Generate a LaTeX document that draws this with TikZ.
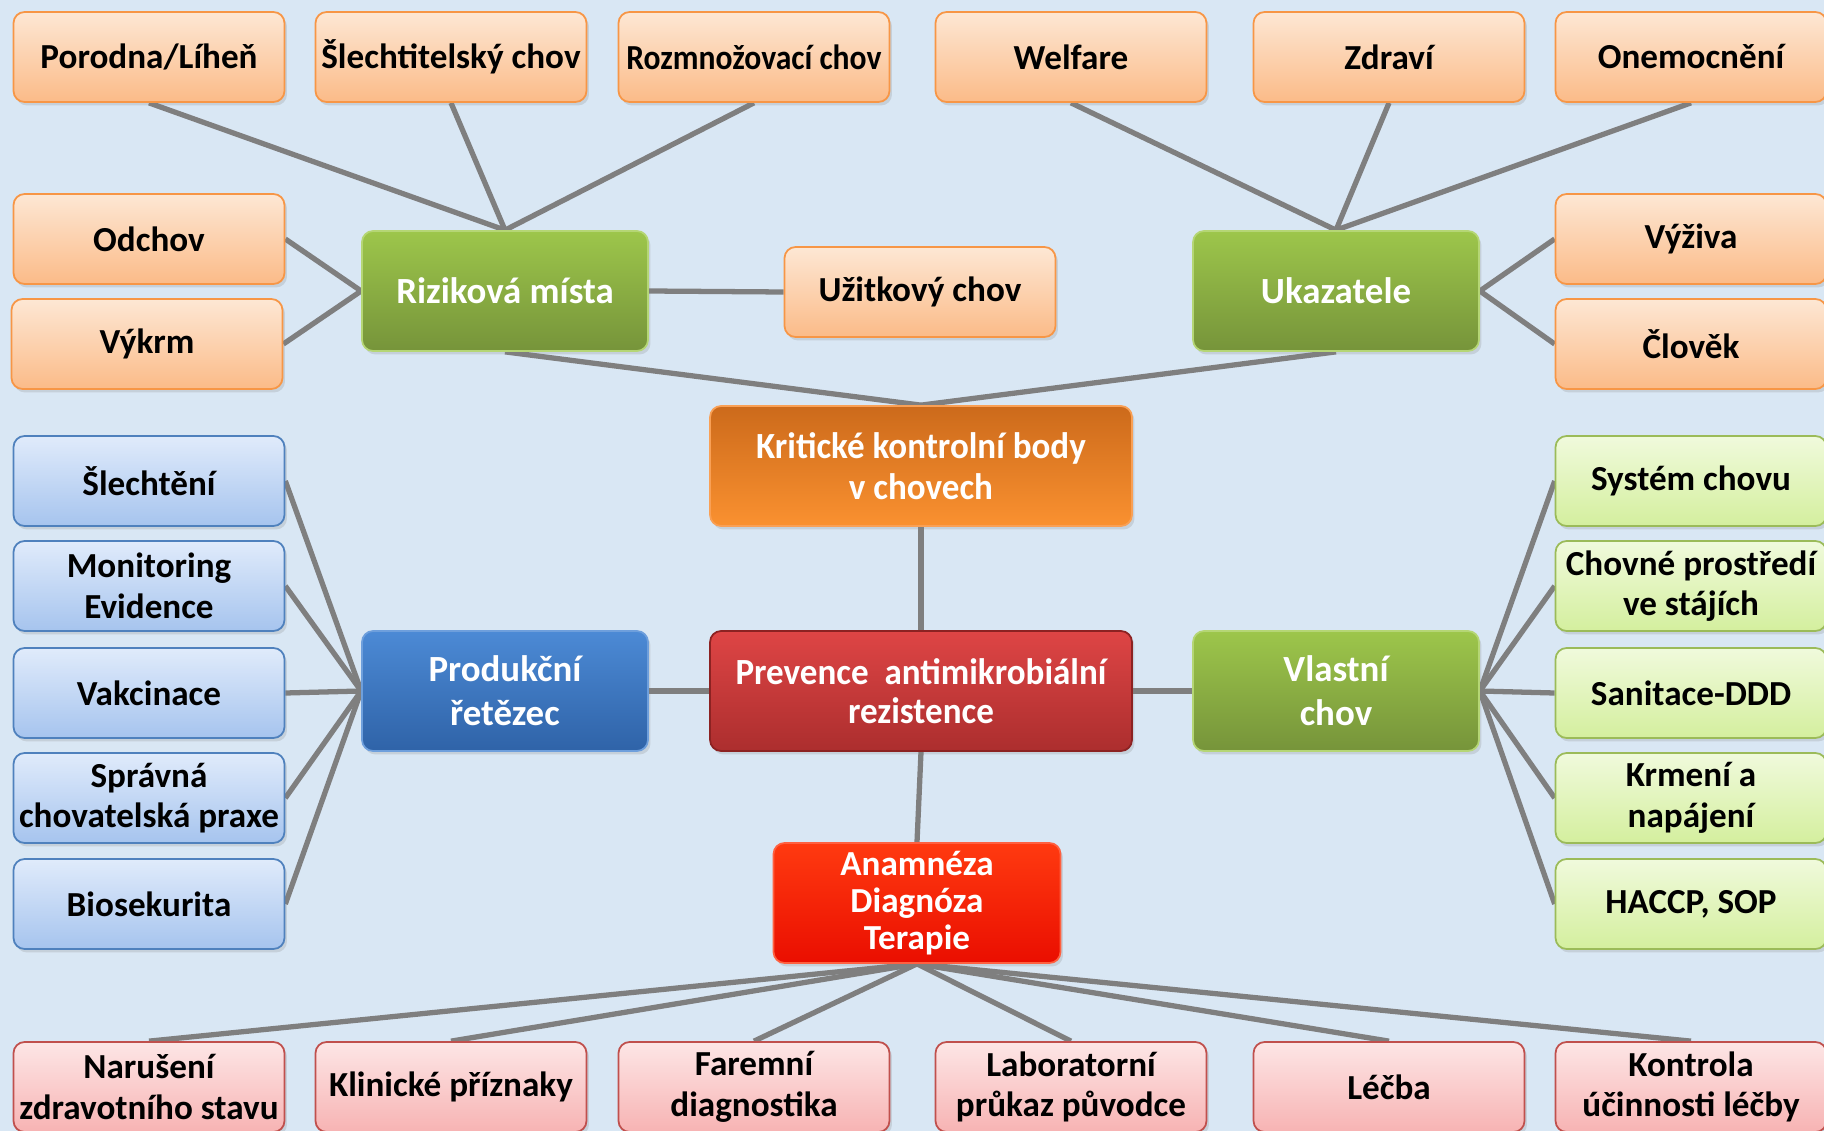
\documentclass[tikz,border=0pt]{standalone}
\usepackage{fontspec}
\usepackage{graphicx}
\setmainfont{Carlito}
\usetikzlibrary{shadows}
\pgfdeclarelayer{backdrop}
\pgfdeclarelayer{bg}
\pgfsetlayers{backdrop,bg,main}
\newcommand{\sqz}[1]{\scalebox{0.95}[1]{#1}}
\definecolor{BackC}{HTML}{D9E7F4}
\definecolor{LinkC}{HTML}{7F7F7F}
\definecolor{OrT}{HTML}{FDE7D4}
\definecolor{OrB}{HTML}{FBBB88}
\definecolor{OrD}{HTML}{F79646}
\definecolor{GlT}{HTML}{F0FADC}
\definecolor{GlB}{HTML}{D4EF9E}
\definecolor{GlD}{HTML}{9BBB59}
\definecolor{BlT}{HTML}{E0EBFB}
\definecolor{BlB}{HTML}{A6C4EE}
\definecolor{BlD}{HTML}{4F81BD}
\definecolor{PkT}{HTML}{FDE6E6}
\definecolor{PkB}{HTML}{F7B3B3}
\definecolor{PkD}{HTML}{C0504D}
\definecolor{HgT}{HTML}{9DC64B}
\definecolor{HgB}{HTML}{76943A}
\definecolor{HgD}{HTML}{B5D675}
\definecolor{HbT}{HTML}{4C8AD5}
\definecolor{HbB}{HTML}{2F63A8}
\definecolor{HbD}{HTML}{6E9FDC}
\definecolor{KoT}{HTML}{CC6A1B}
\definecolor{KoB}{HTML}{FA9130}
\definecolor{KoD}{HTML}{F9A055}
\definecolor{PrT}{HTML}{DE4545}
\definecolor{PrB}{HTML}{AC2E2E}
\definecolor{PrD}{HTML}{8C2222}
\definecolor{AnT}{HTML}{FF3A10}
\definecolor{AnB}{HTML}{EA0E00}
\definecolor{AnD}{HTML}{FF6040}
\begin{document}
\begin{tikzpicture}[x=0.02cm,y=-0.02cm,
  base/.style={rounded corners=0.22cm, align=center, inner sep=0pt, draw, line width=1pt,
    drop shadow={opacity=0.22, shadow xshift=0.05cm, shadow yshift=-0.07cm}},
  leaf/.style={base, minimum width=5.42cm, minimum height=1.8cm,
    font=\bfseries\fontsize{20}{23}\selectfont},
  orangebox/.style={leaf, top color=OrT, bottom color=OrB, draw=OrD},
  greenleaf/.style={leaf, top color=GlT, bottom color=GlB, draw=GlD},
  blueleaf/.style={leaf, top color=BlT, bottom color=BlB, draw=BlD},
  pinkleaf/.style={leaf, top color=PkT, bottom color=PkB, draw=PkD},
  hub/.style={base, minimum width=5.72cm, minimum height=2.4cm, text=white,
    font=\bfseries\fontsize{21}{25}\selectfont},
  greenhub/.style={hub, top color=HgT, bottom color=HgB, draw=HgD},
  bluehub/.style={hub, top color=HbT, bottom color=HbB, draw=HbD},
  link/.style={draw=LinkC, line width=3pt}
]
\begin{pgfonlayer}{backdrop}
\fill[BackC] (0,0) rectangle (1824,1131);
\end{pgfonlayer}
\useasboundingbox (0,0) rectangle (1824,1131);
\clip (0,0) rectangle (1824,1131);

% top row
\node[orangebox] (por) at (149,57) {Porodna/Líheň};
\node[orangebox] (sle) at (451,57) {Šlechtitelský chov};
\node[orangebox] (roz) at (754,57) {\scalebox{0.9}[1]{Rozmnožovací chov}};
\node[orangebox] (wel) at (1071,57) {Welfare};
\node[orangebox] (zdr) at (1389,57) {Zdraví};
\node[orangebox] (one) at (1691,57) {Onemocnění};
% second row
\node[orangebox] (odc) at (149,239) {Odchov};
\node[orangebox] (vyk) at (147,344) {Výkrm};
\node[greenhub] (riz) at (505,291) {Riziková místa};
\node[orangebox] (uzi) at (920,292) {Užitkový chov};
\node[greenhub] (uka) at (1336,291) {Ukazatele};
\node[orangebox] (vyz) at (1691,239) {Výživa};
\node[orangebox] (clo) at (1691,344) {Člověk};
% centre
\node[hub, minimum width=8.44cm, top color=KoT, bottom color=KoB, draw=KoD,
  font=\bfseries\fontsize{21}{23}\selectfont] (kri) at (921,466)
  {\sqz{Kritické kontrolní body}\\\sqz{v chovech}};
\node[hub, minimum width=8.44cm, top color=PrT, bottom color=PrB, draw=PrD,
  font=\bfseries\fontsize{21}{22}\selectfont] (pre) at (921,691)
  {\sqz{Prevence~ antimikrobiální}\\\sqz{rezistence}};
\node[bluehub] (pro) at (505,691) {Produkční\\řetězec};
\node[greenhub] (vla) at (1336,691) {Vlastní\\chov};
\node[hub, minimum width=5.74cm, top color=AnT, bottom color=AnB, draw=AnD,
  font=\bfseries\fontsize{20}{21}\selectfont] (ana) at (917,903) {Anamnéza\\Diagnóza\\Terapie};
% left column
\node[blueleaf] (b1) at (149,481) {Šlechtění};
\node[blueleaf] (b2) at (149,586) {Monitoring\\Evidence};
\node[blueleaf] (b3) at (149,693) {Vakcinace};
\node[blueleaf] (b4) at (149,798) {Správná\\chovatelská praxe};
\node[blueleaf] (b5) at (149,904) {Biosekurita};
% right column
\node[greenleaf] (g1) at (1691,481) {Systém chovu};
\node[greenleaf] (g2) at (1691,586) {Chovné prostředí\\ve stájích};
\node[greenleaf] (g3) at (1691,693) {Sanitace-DDD};
\node[greenleaf] (g4) at (1691,798) {Krmení a\\napájení};
\node[greenleaf] (g5) at (1691,904) {HACCP, SOP};
% bottom row
\node[pinkleaf] (p1) at (149,1087) {Narušení\\zdravotního stavu};
\node[pinkleaf] (p2) at (451,1087) {Klinické příznaky};
\node[pinkleaf] (p3) at (754,1087) {Faremní\\diagnostika};
\node[pinkleaf] (p4) at (1071,1087) {Laboratorní\\průkaz původce};
\node[pinkleaf] (p5) at (1389,1087) {Léčba};
\node[pinkleaf] (p6) at (1691,1087) {Kontrola\\účinnosti léčby};

\begin{pgfonlayer}{bg}
\foreach \n in {por,sle,roz} \draw[link] (riz.north) -- (\n.south);
\foreach \n in {wel,zdr,one} \draw[link] (uka.north) -- (\n.south);
\foreach \n in {odc,vyk} \draw[link] (riz.west) -- (\n.east);
\foreach \n in {vyz,clo} \draw[link] (uka.east) -- (\n.west);
\draw[link] (riz.east) -- (uzi.west);
\draw[link] (riz.south) -- (kri.north);
\draw[link] (uka.south) -- (kri.north);
\draw[link] (kri.south) -- (pre.north);
\draw[link] (pre.west) -- (pro.east);
\draw[link] (pre.east) -- (vla.west);
\draw[link] (pre.south) -- (ana.north);
\foreach \n in {b1,b2,b3,b4,b5} \draw[link] (pro.west) -- (\n.east);
\foreach \n in {g1,g2,g3,g4,g5} \draw[link] (vla.east) -- (\n.west);
\foreach \n in {p1,p2,p3,p4,p5,p6} \draw[link] (ana.south) -- (\n.north);
\end{pgfonlayer}
\end{tikzpicture}
\end{document}
